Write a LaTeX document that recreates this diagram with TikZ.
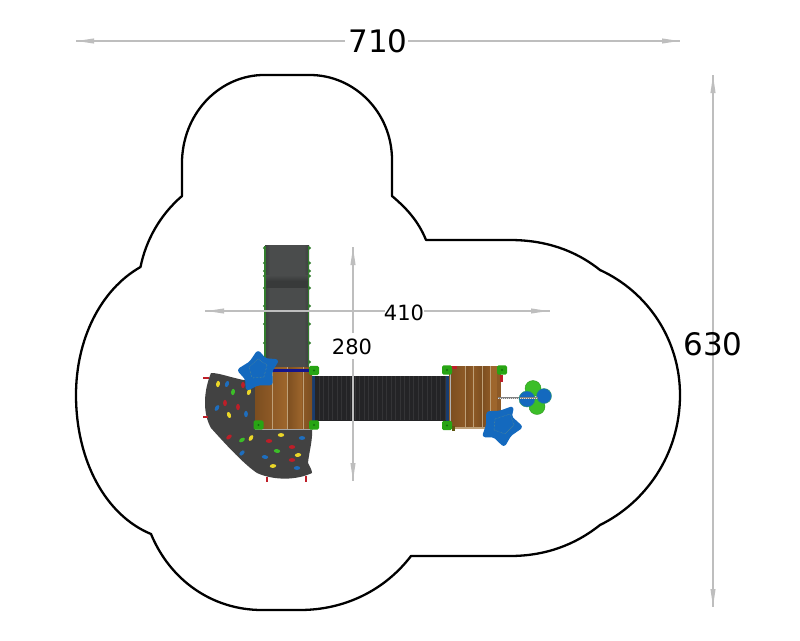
\documentclass[tikz,border=0pt]{standalone}
\usepackage{fontspec}
\setmainfont{DejaVu Sans}
\usetikzlibrary{calc,shadings}
\definecolor{dimgray}{RGB}{190,190,190}
\definecolor{wood}{RGB}{142,90,38}
\definecolor{wooddark}{RGB}{124,78,32}
\definecolor{woodlight}{RGB}{158,102,44}
\definecolor{plank}{RGB}{190,160,120}
\definecolor{slab}{RGB}{66,66,66}
\definecolor{slide}{RGB}{74,76,76}
\definecolor{slideedge}{RGB}{60,62,62}
\definecolor{slidedark}{RGB}{56,58,58}
\definecolor{tube}{RGB}{36,36,38}
\definecolor{tubeline}{RGB}{52,52,54}
\definecolor{post}{RGB}{40,165,20}
\definecolor{postdark}{RGB}{20,110,15}
\definecolor{railgreen}{RGB}{50,125,45}
\definecolor{starblue}{RGB}{20,105,190}
\definecolor{holdred}{RGB}{190,30,40}
\definecolor{holdyellow}{RGB}{235,215,40}
\definecolor{holdblue}{RGB}{30,110,190}
\definecolor{holdgreen}{RGB}{60,190,40}
\definecolor{navy}{RGB}{20,20,140}
\definecolor{tubeend}{RGB}{25,60,110}
\tikzset{
  x=1pt,y=-1pt,
  dimline/.style={draw=dimgray,line width=1.1pt},
  dimhead/.style={fill=dimgray,draw=none},
  bigdim/.style={font=\fontsize{31}{31}\selectfont,inner sep=0pt,text=black},
  smalldim/.style={font=\fontsize{21}{21}\selectfont,inner sep=0pt,text=black},
  bound/.style={draw=black,line width=2.3pt,fill=white,line join=round},
  stud/.style={fill=railgreen,draw=none},
  starshape/.style={fill=starblue,draw=starblue,line width=2.6pt,line join=round,rounded corners=2pt},
  starmark/.style={draw=holdyellow!45!starblue,line width=.4pt,densely dotted},
}
\newcommand{\hhead}[3]{\fill[dimhead] (#1,#2) -- ++(#3,-2.6) -- ++(0,5.2) -- cycle;}
\newcommand{\vhead}[3]{\fill[dimhead] (#1,#2) -- ++(-2.6,#3) -- ++(5.2,0) -- cycle;}
\newcommand{\hold}[4]{\fill[#3,rotate around={#4:(#1,#2)}] (#1,#2) ellipse (3.2 and 1.9);}
\newcommand{\postblob}[2]{\fill[post,rounded corners=1.5pt] (#1-5,#2-4.6) rectangle (#1+5,#2+4.6);\fill[postdark] (#1,#2) circle (1.1);}
\begin{document}
\begin{tikzpicture}
\useasboundingbox (0,0) rectangle (800,640);
\fill[white] (0,0) rectangle (800,640);
% safety surface
\path[bound] (182,196)
  -- (182,160)
  .. controls (184,110) and (222,75) .. (264,75)
  -- (310,75)
  .. controls (354,75) and (392,112) .. (392,160)
  -- (392,196)
  .. controls (405,207) and (418,220) .. (426,240)
  -- (510,240)
  .. controls (545,240) and (575,250) .. (600,270)
  .. controls (648,292) and (680,340) .. (680,395)
  .. controls (680,455) and (645,503) .. (600,525)
  .. controls (575,545) and (545,556) .. (510,556)
  -- (411,556)
  .. controls (385,590) and (345,610) .. (300,610)
  -- (262,610)
  .. controls (212,610) and (170,580) .. (151,534)
  .. controls (105,515) and (76,460) .. (76,395)
  .. controls (76,340) and (100,290) .. (140.5,267)
  .. controls (146,240) and (160,215) .. (182,196) -- cycle;
% dimension lines
\draw[dimline] (76,41) -- (345,41) (408,41) -- (680,41);
\hhead{77}{41}{17}\hhead{679}{41}{-17}
\draw[dimline] (713,75) -- (713,607);
\vhead{713}{76}{17}\vhead{713}{606}{-17}
% slide
\fill[slide] (265,245) rectangle (309,368);
\shade[left color=slideedge,right color=slide] (265,245) rectangle (270,368);
\shade[left color=slide,right color=slideedge] (304,245) rectangle (309,368);
\shade[top color=slide,bottom color=slidedark,middle color=slidedark] (266,275) rectangle (308,287);
\draw[railgreen,line width=1.3pt] (265,246) -- (265,368) (308.5,246) -- (308.5,368);
\foreach \yy in {248,263,271,276,288,306,324,343}{
  \fill[stud] (264.5,\yy) circle (1.7);
  \fill[stud] (309.5,\yy) circle (1.7);
}
\fill[stud] (309.5,362) circle (1.7);
% climbing wall
\fill[slab] (211,373) .. controls (222,373) and (232,379) .. (256,382)
  -- (256,428) -- (312,428)
  .. controls (313,440) and (309,452) .. (308,463)
  .. controls (310,467) and (312,470) .. (312,473)
  .. controls (297,480) and (275,481) .. (257,473)
  .. controls (245,465) and (228,447) .. (211,428)
  .. controls (202,412) and (204,390) .. (211,373) -- cycle;
\foreach \xa/\ya/\xb/\yb in {203/378/209/378,203/417/208/417,267/477/267/482,306/476/306/482}{
  \draw[holdred,line width=2.4pt] (\xa,\ya) -- (\xb,\yb);
}
\hold{218}{384}{holdyellow}{80}\hold{227}{384}{holdblue}{70}\hold{243}{385}{holdred}{90}
\hold{233}{392}{holdgreen}{80}\hold{249}{392}{holdyellow}{70}
\hold{225}{403}{holdred}{90}\hold{217}{408}{holdblue}{60}\hold{238}{407}{holdred}{90}
\hold{229}{415}{holdyellow}{110}\hold{246}{414}{holdblue}{90}
\hold{229}{437}{holdred}{40}\hold{242}{440}{holdgreen}{30}\hold{251}{438}{holdyellow}{60}
\hold{242}{453}{holdblue}{45}\hold{269}{441}{holdred}{0}\hold{281}{435}{holdyellow}{0}
\hold{302}{438}{holdblue}{0}\hold{277}{451}{holdgreen}{-10}\hold{265}{457}{holdblue}{-10}
\hold{292}{447}{holdred}{0}\hold{298}{455}{holdyellow}{10}\hold{292}{460}{holdred}{0}
\hold{273}{466}{holdyellow}{5}\hold{297}{468}{holdblue}{0}
% tube
\fill[tube] (315,375.5) rectangle (446,420.5);
\foreach \xx in {317,321.5,...,445}{
  \draw[tubeline,line width=1pt] (\xx+2.2,376) -- (\xx+2.2,420);
}
\fill[tubeend] (312,376) rectangle (315,421);
\fill[tubeend] (445.5,376) rectangle (449,421);
% platform 1
\fill[wood] (255,367) rectangle (312,429);
\shade[left color=wooddark,right color=wood] (255,367) rectangle (272,429);
\shade[left color=wood,right color=woodlight] (272,367) rectangle (287,429);
\shade[left color=wooddark,right color=woodlight] (287,367) rectangle (302,429);
\shade[left color=wood,right color=wooddark] (302,367) rectangle (312,429);
\foreach \xx in {272,287,303}{\draw[plank,line width=.5pt] (\xx,367) -- (\xx,429);}
\draw[gray!70!white,line width=1pt] (255,429) -- (313,429);
\draw[navy,line width=2.6pt] (270,370.5) -- (309,370.5);
\postblob{314}{370.5}
\postblob{258.5}{425}
\postblob{314}{425}
% platform 2
\fill[wood] (449,366) rectangle (501,427);
\shade[left color=wooddark,right color=wood] (450,366) rectangle (465,427);
\shade[left color=wooddark,right color=wood] (465,366) rectangle (473,427);
\shade[left color=wood,right color=wooddark] (473,366) rectangle (482,427);
\shade[left color=wooddark,right color=wood] (482,366) rectangle (490,427);
\fill[woodlight] (490,366) rectangle (497,427);
\foreach \xx in {465,473,482,490}{\draw[plank,line width=.5pt] (\xx,366) -- (\xx,427);}
\draw[gray!60!white,line width=1pt] (450,366) -- (450,427);
\draw[plank,line width=1.2pt] (453,428) -- (490,428);
\fill[holdyellow!40!black] (451.5,426) rectangle (454.5,431);
\fill[holdred] (451,365.5) rectangle (457,369);
\fill[holdred] (499.5,375) rectangle (503,382);
\postblob{447}{370}
\postblob{502}{370}
\postblob{447}{425.5}
% spinner
\fill[holdgreen,draw=holdgreen!80!black] (533,388.5) circle (8);
\fill[holdgreen,draw=holdgreen!80!black] (537,406.5) circle (8);
\draw[gray,line width=2.6pt] (498,398) -- (538,398);
\fill[starblue,draw=holdgreen!60!starblue] (527,399) circle (8);
\fill[starblue,draw=holdgreen!60!starblue] (544,396) circle (7.5);
\draw[gray,line width=2.6pt] (520,398) -- (538,398);
\draw[white!75!gray,line width=.8pt,dash pattern=on 1pt off 1pt] (498,398) -- (538,398);
% stars
\path[starshape] (258,351.5) -- (250.5,362.5) -- (238.5,370) -- (246.5,379) -- (247,389.5) -- (258,384) -- (271.5,384) -- (271,371) -- (277.5,360.5) -- (265,359.5) -- cycle;
\draw[starmark] (258,359) -- (267,365) -- (264,377) -- (252,378) -- (249,367) -- cycle;
\path[starshape] (512.5,407.5) -- (500,412) -- (487.5,412.5) -- (487.5,424.5) -- (483.5,436) -- (494,436) -- (504,445.5) -- (510,435) -- (521.5,427) -- (510.5,417) -- cycle;
\draw[starmark] (510,414) -- (514,425) -- (505,434) -- (494,430) -- (495,419) -- cycle;
% inner dimension lines
\draw[dimline] (205,311) -- (385,311) (424,311) -- (550,311);
\hhead{207}{311}{17}\hhead{548}{311}{-17}
\draw[dimline] (353,247) -- (353,333) (353,359) -- (353,481);
\vhead{353}{248}{17}\vhead{353}{480}{-17}
% texts
\node[bigdim] (w710) at (378,41) {710};
\node[bigdim] (h630) at (713,344) {630};
\node[smalldim] (w410) at (404,313) {410};
\node[smalldim] (h280) at (352,347) {280};
\end{tikzpicture}
\end{document}
